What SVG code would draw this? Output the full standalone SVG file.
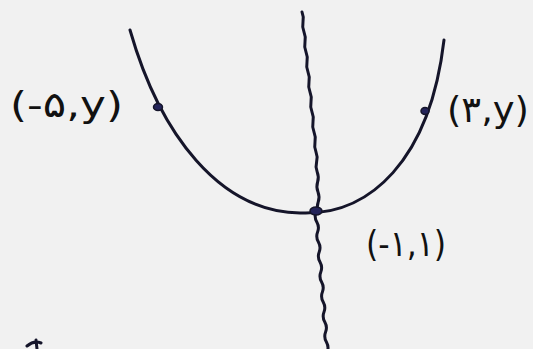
<svg xmlns="http://www.w3.org/2000/svg" width="533" height="349" viewBox="0 0 533 349">
<style>
.ink{fill:none;stroke:#15152a;stroke-width:3;stroke-linecap:round;stroke-linejoin:round}
.dot{fill:#24245a;stroke:#15152a;stroke-width:1.5}
.lbl{font-family:"DejaVu Sans","Noto Sans",sans-serif;font-size:36px;fill:#111;direction:ltr}
</style>
<rect width="533" height="349" fill="#f1f1f1"/>
<g id="connectors">
  <path id="parabola" class="ink" d="M130,30 C160,135 220,212 300,213 C370,216 430,160 444,40"/>
  <path id="axis-upper" class="ink" stroke-width="2.5" d="M302,12 q2,5 1,10 t1,10 t1,10 t1,10 t1,10 t1,10 t1,10 t1,10 t1,10 t1,10 t1,10 t1,10 t1,10 t1,10 t0.6,10 t0.6,10 t0.4,10 t0.4,10 t0.2,10 t0,10"/>
  <path id="axis-lower" class="ink" stroke-width="2.5" d="M316,212 q-2,5 0.8,10 t0.8,10 t0.8,10 t0.8,10 t0.8,10 t0.8,10 t0.8,10 t0.8,10 t0.8,10 t0.8,10 t0.8,10 t0.8,10 t0.8,10 t0.8,10"/>
  <path id="mark" class="ink" d="M27,346 q7,-6 14,-3 M36,340 l1,9"/>
</g>
<g id="point-left">
  <ellipse class="dot" cx="158" cy="107" rx="4.5" ry="3.5"/>
  <text class="lbl" x="10" y="117" textLength="113" lengthAdjust="spacingAndGlyphs">(-۵,y)</text>
</g>
<g id="point-right">
  <ellipse class="dot" cx="425" cy="111" rx="4" ry="3.5"/>
  <text class="lbl" x="447" y="122" textLength="82" lengthAdjust="spacingAndGlyphs">(۳,y)</text>
</g>
<g id="point-vertex">
  <ellipse class="dot" cx="316" cy="211" rx="6" ry="4"/>
  <text class="lbl" x="366" y="256" textLength="80" lengthAdjust="spacingAndGlyphs">(-۱,۱)</text>
</g>
</svg>
